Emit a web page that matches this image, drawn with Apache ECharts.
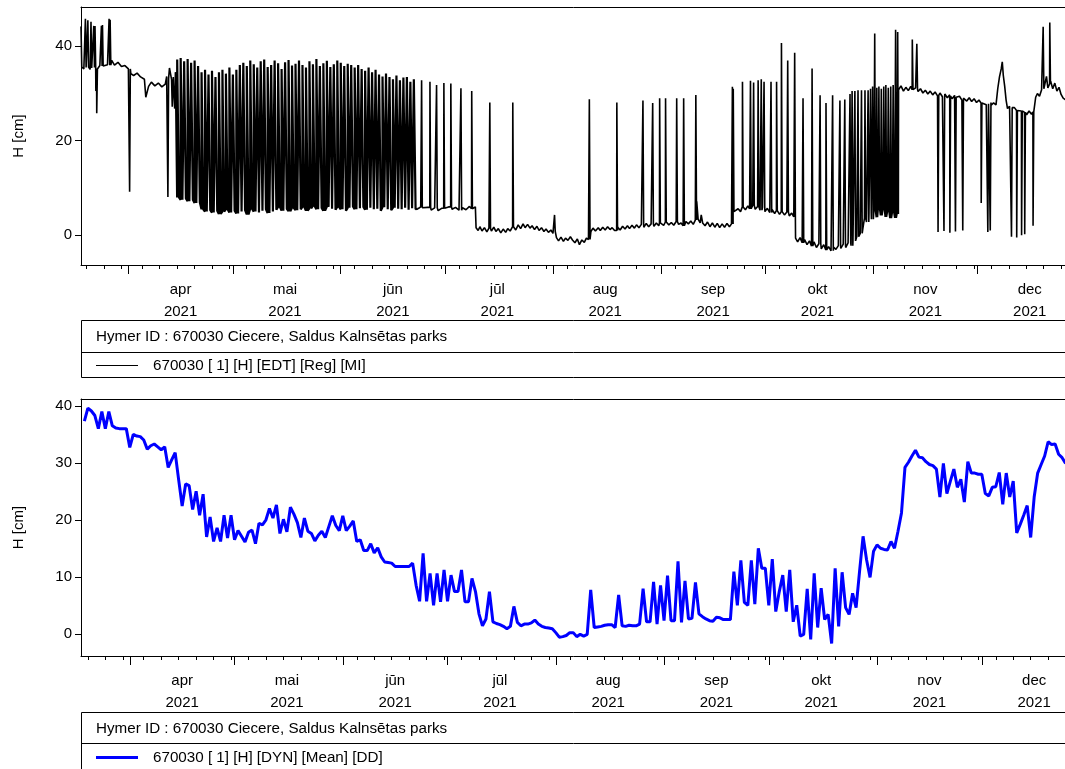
<!DOCTYPE html>
<html>
<head>
<meta charset="utf-8">
<script src="https://cdn.jsdelivr.net/npm/echarts@6/dist/echarts.min.js"></script>
<style>
  html, body { margin: 0; padding: 0; background: #fff; }
  #chart { width: 1065px; height: 769px; }
</style>
</head>
<body>
<div id="chart"></div>
<script>
// day numbers are counted from 2021-03-18 00:00 (= day 0)
const monthNames = ['apr', 'mai', 'jūn', 'jūl', 'aug', 'sep', 'okt', 'nov', 'dec'];
const monthStartDays = [14, 44, 75, 105, 136, 167, 197, 228, 258];
const monthLabelDays = [29, 59, 90, 120, 151, 182, 212, 243, 273];
const minorTickDays = [2, 7, 12, 18, 23, 28, 33, 38, 43, 48, 53, 58, 63, 68, 73,
  79, 84, 89, 94, 99, 104, 109, 114, 119, 124, 129, 134, 140, 145, 150, 155, 160, 165,
  171, 176, 181, 186, 191, 196, 201, 206, 211, 216, 221, 226, 232, 237, 242, 247, 252, 257,
  262, 267, 272, 277, 282];
const yearLabel = '2021';
const topYTicks = [0, 20, 40];
const bottomYTicks = [0, 10, 20, 30, 40];

const stationTitle = 'Hymer ID : 670030 Ciecere, Saldus Kalnsētas parks';
const topSeriesName = '670030 [ 1] [H] [EDT] [Reg] [MI]';
const bottomSeriesName = '670030 [ 1] [H] [DYN] [Mean] [DD]';

// hourly record (top): slow level, [day, cm]
const topLevel = [
  [0.38, 44.2], [0.6, 35.6], [1.2, 35.2], [2, 35.9], [3, 35.1], [3.8, 35.7], [5.2, 35], [5.8, 35.9],
  [7, 35.4], [8, 36.1], [9.2, 37], [10, 36], [11, 36.6], [12, 35.7], [13, 35.9], [14, 35.2],
  [14.7, 34.2], [15.5, 33.8], [16.5, 34.3], [17.5, 33.5], [18.6, 33], [19, 29.2], [19.5, 29],
  [19.8, 31.5], [20.6, 32.4], [21.6, 31.6], [22.6, 32.2], [23.6, 31.4], [24.6, 32], [25, 33.6],
  [25.8, 35.4], [26.4, 33], [26.6, 27.2], [26.9, 33.5], [27.3, 26.8], [27.6, 34.5],
  [97.2, 5.6], [98, 6], [99, 5.4], [100, 5.9], [101, 5.3], [102, 5.8], [103, 5.2], [104, 5.7],
  [105, 5.4], [106, 6], [107, 5.5], [108, 5.9], [109, 5.3], [110, 5.8], [111, 5.4], [112, 6.1],
  [113, 5.6], [113.7, 6], [113.9, 1.6],
  [114.5, 1.0], [115, 1.8], [115.6, 0.9], [116.3, 1.6], [117, 0.7], [117.6, 1.5], [118.3, 0.9],
  [119, 1.7], [119.6, 0.8], [120.3, 1.4], [121, 0.5], [121.7, 1.3], [122.4, 0.6], [123, 1.4],
  [123.7, 0.9], [124.8, 1.8], [125.3, 1.1], [126, 2.2], [126.7, 1.4], [127.4, 2.4], [128, 1.6],
  [128.7, 2.3], [129.4, 1.5], [130, 2.0], [130.7, 1.2], [131.4, 1.9], [132, 1.0], [132.7, 1.6],
  [133.4, 0.8], [134, 1.3], [134.7, 0.6], [135.4, 1.1], [136, 0.4],
  [137, -0.5], [137.6, -1.2], [138.3, -0.4], [139, -1.3], [139.6, -0.6], [140.3, -1.1], [141, -0.3],
  [141.6, -1.0], [142.3, -1.6], [143, -0.8], [143.6, -2.0], [144.3, -1.0], [145, -1.5], [145.6, -0.6],
  [146.2, -0.9], [146.9, 0.8], [147.5, 1.5], [148.2, 0.9], [149, 1.6], [149.6, 1.0], [150.3, 1.7],
  [151, 1.1], [151.7, 1.8], [152.4, 1.2], [153, 1.6], [153.7, 1.0], [154.6, 1.7], [155.3, 1.1],
  [156, 1.9], [156.7, 1.3], [157.4, 2.0], [158, 1.4], [158.7, 2.1], [159.4, 1.5], [160, 2.2],
  [160.7, 1.6], [161.4, 2.3], [162.1, 1.7], [162.8, 2.5], [163.5, 1.8], [164.2, 2.4], [165, 1.9],
  [165.7, 2.6], [166.4, 2.0], [167.1, 2.7], [167.8, 2.1], [168.6, 2.8], [169.3, 2.2], [170, 2.7],
  [170.7, 2.1], [171.4, 2.9], [172.1, 2.3], [172.8, 2.6], [173.4, 2.0], [174.2, 2.9], [174.9, 2.4],
  [175.6, 3.0], [176.3, 2.3], [176.9, 3.2], [177.3, 7.2], [177.7, 3.4], [178.3, 2.6], [178.6, 4.3],
  [179, 2.6], [179.7, 2.0], [180.4, 2.8], [181.1, 1.8], [181.8, 2.6], [182.5, 1.7], [183.2, 2.5],
  [183.9, 1.6], [184.6, 2.4], [185.3, 1.7], [186, 2.5], [186.7, 1.8], [187.3, 2.4],
  [188.1, 5.2], [188.5, 4.6], [189.2, 5.6], [189.9, 5.0], [190.8, 6.0], [191.3, 5.4], [192, 6.2],
  [192.5, 5.6], [193.4, 6.3], [194.1, 5.5], [194.8, 6.1], [195.5, 5.3], [196.2, 5.9], [196.9, 5.0],
  [197.6, 5.7], [198.3, 4.8], [199, 5.4], [199.7, 4.6], [200.6, 5.2], [201.1, 4.4], [202, 5.0],
  [202.5, 4.3], [203.2, 4.9], [203.9, 4.1], [204.6, 4.7], [205.2, 3.9],
  [205.7, -0.6], [206.3, -1.4], [207, -0.5], [207.6, -1.6], [208.3, -0.9], [209, -2.0], [209.7, -1.2],
  [210.3, -2.3], [211, -1.4], [211.7, -2.6], [212.4, -1.8], [213.1, -2.9], [213.8, -2.0], [214.8, -3.1],
  [215.2, -2.4], [215.9, -3.3], [216.6, -2.5], [217.3, -3.0], [218, -2.2], [218.7, -2.8], [219.4, -1.9],
  [220.1, -2.6], [220.8, -1.6], [221.65, -2.2], [222.2, -1.2], [223.05, -1.0], [223.3, -0.3],
  [224.3, 0.4], [225, 1.2], [225.5, 3.6], [226.1, 2.8], [226.8, 4.8], [227.5, 3.4], [228.2, 5.2],
  [228.9, 3.8], [229.45, 5.6], [230.1, 4.2], [230.8, 5.4], [231.45, 3.9], [232.1, 5.0], [232.8, 3.6],
  [233.5, 4.8], [234.2, 3.7], [234.85, 4.5],
  [235.3, 30.8], [236, 31.6], [236.7, 30.5], [237.4, 31.3], [238.1, 30.6], [238.8, 31.5], [239.5, 30.8],
  [240.2, 31.2], [240.9, 30.4], [241.6, 31.0], [242.3, 30.1], [243, 30.7], [243.7, 29.9], [244.4, 30.5],
  [245.1, 29.7], [245.8, 30.3], [246.5, 29.5], [247.2, 30.1], [247.9, 29.3], [248.6, 29.9], [249.3, 29.1],
  [250, 29.7], [250.7, 28.9], [251.4, 29.6], [252.1, 28.8], [252.8, 29.4], [253.5, 28.6], [254.2, 29.2],
  [254.9, 28.4], [255.6, 29.1], [256.3, 28.3], [257, 28.9], [257.7, 28.1], [258.4, 28.6], [259.1, 27.8],
  [259.8, 28.4], [260.5, 27.6], [261.2, 28.2], [261.9, 27.5], [262.6, 28.0], [263.3, 27.6], [263.8, 31.0],
  [264.3, 33.5], [264.8, 35.2], [265.1, 36.7], [265.4, 33.8], [265.8, 31.5], [266.2, 28.6], [266.6, 26.8],
  [267.2, 27.3], [267.9, 26.2], [268.6, 27.0], [269.3, 25.8], [270, 26.6], [270.7, 25.6], [271.4, 26.4],
  [272.1, 25.5], [272.8, 26.3], [273.5, 25.6], [274.2, 26.5], [274.7, 29.2], [275.2, 30.0], [275.8, 29.4],
  [276.4, 30.8], [277.2, 31.5], [277.8, 33.6], [278.2, 31.2], [279, 32.6], [279.6, 31.0], [280.2, 32.2],
  [280.8, 30.5], [281.4, 31.3], [282, 29.8], [282.6, 29.0], [283.2, 28.7], [283.7, 29.2]
];

// daily pumping cycle of the hourly record, days 28..96: high and low of each day
const cycleFirstDay = 28;
const cycleHighs = [
  37.2, 37.5, 36.8, 37.3, 36.5, 37.0, 35.8, 34.5, 35.0, 34.0,
  34.8, 33.5, 34.5, 35.0, 34.2, 35.5, 34.0, 35.0, 36.0, 36.5,
  35.8, 37.0, 36.2, 35.5, 36.8, 37.2, 35.6, 36.0, 37.0, 36.4,
  35.2, 36.6, 37.1, 35.9, 36.3, 37.0, 36.0, 35.5, 36.8, 36.2,
  37.3, 35.8, 36.4, 36.9, 35.6, 36.2, 37.0, 36.5, 35.8, 36.3,
  36.0, 35.5, 36.0, 35.2, 34.8, 35.5, 34.5, 35.0, 34.0, 33.6,
  34.2, 33.5, 33.0, 33.8, 32.8, 33.4, 33.5, 32.5, 33.0
];
const cycleLows = [
  8.0, 7.5, 7.8, 7.2, 7.5, 6.8, 7.0, 5.5, 5.0, 5.3,
  4.8, 5.2, 4.5, 5.0, 5.5, 4.8, 5.2, 4.6, 5.0, 5.3,
  4.4, 5.6, 5.0, 4.8, 5.2, 5.5, 4.7, 5.0, 5.4, 6.0,
  5.2, 5.6, 5.1, 5.8, 5.3, 5.5, 6.0, 5.2, 5.7, 6.2,
  5.5, 5.8, 5.2, 6.0, 5.6, 5.4, 6.0, 5.5, 5.2, 5.8,
  6.1, 5.5, 5.7, 6.0, 5.4, 5.8, 5.5, 5.6, 5.2, 5.9,
  5.5, 5.3, 5.8, 5.6, 5.5, 5.8, 5.4, 5.7, 5.5
];

// short excursions of the hourly record: [day, level, extreme]
const excursions = [
  [1.6, 35.5, 45.8], [2.3, 35.6, 45.5], [3.2, 35.4, 45.2], [4.0, 35.5, 44.3], [4.35, 35.5, 44.3],
  [4.6, 35.3, 30.5], [4.85, 35.2, 25.8], [6.2, 35.8, 44.3], [6.5, 35.8, 44.5], [8.4, 36, 45.8],
  [8.7, 36, 45.6], [14.3, 35.2, 9.2], [25.3, 33.2, 8.1],
  [98.2, 5.8, 32.8], [100.6, 5.9, 32.5], [102.5, 5.8, 31.8], [104.6, 5.7, 32.2], [106.6, 6.0, 32.1],
  [109.5, 5.3, 31.1], [112.6, 5.6, 30.5],
  [117.8, 1.5, 28.1], [124.4, 1.8, 28.1], [136.4, 0.8, 4.3], [146.4, -0.9, 28.8], [154.3, 1.0, 28.1],
  [161.8, 2.3, 28.5], [164.6, 2.4, 28], [166.6, 2.6, 29], [168.3, 2.8, 29], [171.5, 2.9, 29],
  [173.5, 2.0, 29], [177.0, 3.2, 29.7],
  [187.5, 2.4, 31.4], [187.75, 5, 31], [190.4, 6.0, 32.5], [192.7, 5.6, 32.7], [193.6, 6.3, 32.3],
  [194.9, 6.1, 32.8], [195.8, 5.3, 33], [196.6, 5.9, 32.5], [198.6, 4.8, 32.5], [200.2, 5.2, 32.5],
  [201.6, 5.0, 40.7], [203.4, 4.9, 37], [205.4, 3.9, 38.6],
  [207.8, -1.6, 29], [210.4, -2.3, 35.3], [212.7, -1.8, 29.6], [214.4, -3.1, 28], [216.3, -3.3, 29.6],
  [218.4, -2.2, 28.5], [219.8, -1.9, 28.7], [221.3, -1.6, 29.9], [221.9, -2.2, 30.5], [222.7, -1.2, 30.5],
  [223.6, -0.3, 30.7], [224.6, 0.4, 30.7], [225.6, 3.6, 30.7], [226.5, 2.8, 30.7], [227.2, 4.8, 31],
  [227.8, 3.4, 31.5], [228.4, 5.2, 42.7], [229.0, 3.8, 31.2], [229.6, 5.6, 31.5], [230.3, 4.2, 31],
  [231.0, 5.4, 31.5], [231.6, 3.9, 31.8], [232.3, 5.0, 31.2], [233.0, 3.6, 31.5], [233.7, 4.8, 31.8],
  [234.4, 3.7, 43.5], [235.0, 4.5, 43],
  [239.2, 30.8, 41.4], [240.5, 30.9, 40.5], [246.6, 29.6, 0.7], [248.3, 29.4, 0.9], [250.0, 29.4, 0.5],
  [251.6, 29.2, 0.8], [253.7, 29.0, 1.0], [259.0, 28.0, 6.8], [260.9, 27.8, 0.7], [261.6, 28.1, 1.0],
  [267.7, 27, -0.3], [269.2, 26.4, -0.5], [270.6, 26.3, 0], [271.5, 26, 0.2], [273.9, 26.1, 2],
  [276.8, 31, 44.1], [278.7, 32, 45]
];

// daily mean (bottom), days 1..282
const blueFirstDay = 1;
const blueDaily = [
  37.3, 39.6, 39.1, 38.3, 36.0, 39.0, 36.0, 39.0, 36.5, 36.1,
  36.0, 36.0, 36.0, 32.7, 35.0, 34.7, 34.6, 34.0, 32.4, 33.0,
  33.3, 32.8, 32.3, 32.8, 29.2, 30.5, 31.8, 27.0, 22.4, 26.3,
  26.0, 21.8, 25.0, 20.8, 24.5, 17.0, 20.5, 16.2, 18.6, 16.2,
  20.8, 16.8, 20.8, 16.5, 18.1, 17.1, 16.1, 17.8, 18.2, 15.8,
  19.4, 19.1, 20.0, 22.0, 20.3, 22.6, 17.6, 20.1, 17.9, 22.2,
  21.0, 19.5, 16.9, 20.3, 18.0, 17.6, 16.3, 17.3, 18.0, 16.9,
  18.8, 20.7, 19.0, 18.1, 20.7, 18.1, 18.9, 19.8, 16.2, 16.5,
  14.6, 14.6, 15.8, 14.2, 15.1, 13.5, 12.6, 12.5, 12.4, 11.8,
  11.8, 11.8, 11.8, 11.8, 12.4, 8.5, 5.7, 14.1, 5.7, 10.6,
  5.0, 10.6, 5.6, 11.2, 5.7, 10.3, 7.4, 7.4, 11.2, 5.6,
  5.6, 9.7, 7.4, 3.5, 1.4, 2.6, 7.4, 2.1, 1.8, 1.6,
  1.3, 0.9, 1.3, 4.8, 2.0, 1.4, 1.7, 1.7, 1.9, 2.4,
  1.7, 1.3, 1.1, 1.0, 0.9, 0.2, -0.6, -0.5, -0.3, 0.2,
  0.2, -0.5, -0.1, -0.4, -0.1, 7.7, 1.1, 1.2, 1.3, 1.5,
  1.6, 1.6, 1.1, 6.8, 1.4, 1.3, 1.5, 1.4, 1.4, 1.7,
  7.9, 2.1, 2.1, 9.1, 1.7, 8.5, 2.3, 10.2, 2.3, 2.3,
  12.7, 2.0, 9.3, 2.6, 2.7, 9.0, 3.5, 3.0, 2.6, 2.3,
  2.2, 2.9, 2.8, 2.5, 2.5, 2.5, 10.9, 5.0, 12.9, 5.5,
  5.0, 12.9, 5.2, 15.0, 11.5, 11.5, 5.0, 13.1, 3.9, 7.4,
  10.3, 3.9, 11.2, 2.1, 5.0, -0.4, -0.1, 7.9, -1.0, 10.6,
  1.1, 8.0, 2.5, 3.4, -1.7, 11.5, 1.3, 10.8, 4.6, 3.4,
  7.1, 4.6, 11.0, 17.1, 13.0, 9.9, 14.5, 15.6, 15.0, 14.8,
  14.7, 16.2, 15.0, 18.0, 21.2, 29.2, 30.1, 31.2, 32.2, 31.0,
  30.9, 30.2, 29.7, 29.5, 28.9, 24.0, 29.9, 24.6, 26.8, 28.9,
  25.7, 27.1, 23.1, 30.2, 28.2, 28.2, 28.0, 28.0, 24.6, 24.2,
  25.7, 25.8, 28.3, 22.7, 28.2, 24.0, 26.8, 17.7, 19.2, 20.8,
  22.5, 16.9, 24.0, 28.2, 29.7, 31.2, 33.7, 33.2, 33.3, 31.5,
  30.9, 29.9
];

// ---- build the series ----
const excursionSpans = excursions.map(([d]) => [d, d + 0.25]);
const topPoints = topLevel.filter(([d]) => !excursionSpans.some(([a, b]) => d > a && d < b));
excursions.forEach(([d, base, peak]) => {
  topPoints.push([d, base], [d + 0.05, peak], [d + 0.2, peak], [d + 0.25, base]);
});
topPoints.sort((a, b) => a[0] - b[0]);

// the daily cycle is drawn as a square wave: up at the start of the day, down at noon
const cycleEnd = cycleFirstDay + cycleLows.length;
const topEarly = topPoints.filter(p => p[0] < cycleFirstDay);
const topLate = topPoints.filter(p => p[0] >= cycleEnd);
const cyclePoints = [topEarly[topEarly.length - 1]];
cycleLows.forEach((low, i) => {
  const d = cycleFirstDay + i;
  cyclePoints.push([d, low], [d + 0.02, cycleHighs[i]], [d + 0.5, cycleHighs[i]], [d + 0.52, low]);
});
cyclePoints.push(topLate[0]);

const bluePoints = blueDaily.map((v, i) => [blueFirstDay + i, v]);

// ---- chart ----
const FONT = 'Liberation Sans';
const textColor = '#000';
const legendFont = '15.2px ' + FONT;

function xAxesFor(gridIndex, min, max) {
  return [
    {
      type: 'value', gridIndex: gridIndex, min: min, max: max, position: 'bottom',
      axisLine: { show: true, onZero: false, lineStyle: { color: '#000', width: 1 } },
      axisTick: { show: true, customValues: monthStartDays, length: 9, lineStyle: { color: '#000' } },
      axisLabel: {
        customValues: monthLabelDays, margin: 14, color: textColor, fontFamily: FONT,
        fontSize: 15, lineHeight: 22,
        formatter: v => monthNames[monthLabelDays.indexOf(v)] + '\n' + yearLabel
      },
      splitLine: { show: false }
    },
    {
      type: 'value', gridIndex: gridIndex, min: min, max: max, position: 'bottom',
      axisLine: { show: false, onZero: false },
      axisTick: { show: true, customValues: minorTickDays, length: 4, lineStyle: { color: '#000' } },
      axisLabel: { show: false },
      splitLine: { show: false }
    },
    {
      type: 'value', gridIndex: gridIndex, min: min, max: max, position: 'top',
      axisLine: { show: true, onZero: false, lineStyle: { color: '#000', width: 1 } },
      axisTick: { show: false }, axisLabel: { show: false }, splitLine: { show: false }
    }
  ];
}

function yAxisFor(gridIndex, min, max, ticks) {
  return {
    type: 'value', gridIndex: gridIndex, min: min, max: max,
    name: 'H [cm]', nameLocation: 'middle', nameGap: 55, nameRotate: 90,
    nameTextStyle: { color: textColor, fontFamily: FONT, fontSize: 15 },
    axisLine: { show: true, onZero: false, lineStyle: { color: '#000', width: 1 } },
    axisTick: { show: true, customValues: ticks, length: 6, lineStyle: { color: '#000' } },
    axisLabel: { customValues: ticks, margin: 9, color: textColor, fontFamily: FONT, fontSize: 15 },
    splitLine: { show: false }
  };
}

const topLine = (data, width) => ({
  name: topSeriesName, type: 'line', xAxisIndex: 0, yAxisIndex: 0,
  data: data, showSymbol: false, symbol: 'none', sampling: null,
  lineStyle: { color: '#000', width: width, join: 'bevel' }, silent: true
});

const option = {
  animation: false,
  backgroundColor: '#fff',
  textStyle: { fontFamily: FONT },
  grid: [
    { left: 81, top: 7, width: 986, height: 258, outerBoundsMode: 'none' },
    { left: 81, top: 399, width: 986, height: 257, outerBoundsMode: 'none' }
  ],
  xAxis: [].concat(xAxesFor(0, 0.38, 283.7), xAxesFor(1, 0.03, 282.4)),
  yAxis: [
    yAxisFor(0, -6.3, 48.3, topYTicks),
    yAxisFor(1, -3.9, 41.2, bottomYTicks)
  ],
  series: [
    topLine(topEarly, 1.6),
    topLine(cyclePoints, 2.2),
    topLine(topLate, 1.6),
    {
      name: bottomSeriesName, type: 'line', xAxisIndex: 3, yAxisIndex: 1,
      data: bluePoints, showSymbol: false, symbol: 'none',
      lineStyle: { color: '#0000ff', width: 3 }, silent: true
    }
  ],
  graphic: [
    // legend box of the top chart
    { type: 'rect', shape: { x: 81.5, y: 320.5, width: 1000, height: 57 }, style: { fill: '#fff', stroke: '#000', lineWidth: 1 } },
    { type: 'line', shape: { x1: 81, y1: 352.5, x2: 1070, y2: 352.5 }, style: { stroke: '#000', lineWidth: 1 } },
    { type: 'text', x: 96, y: 336.5, style: { text: stationTitle, fill: textColor, font: legendFont, verticalAlign: 'middle' } },
    { type: 'line', shape: { x1: 96, y1: 365.5, x2: 138, y2: 365.5 }, style: { stroke: '#000', lineWidth: 1 } },
    { type: 'text', x: 153, y: 365.5, style: { text: topSeriesName, fill: textColor, font: legendFont, verticalAlign: 'middle' } },
    // legend box of the bottom chart
    { type: 'rect', shape: { x: 81.5, y: 712.5, width: 1000, height: 100 }, style: { fill: '#fff', stroke: '#000', lineWidth: 1 } },
    { type: 'line', shape: { x1: 81, y1: 743.5, x2: 1070, y2: 743.5 }, style: { stroke: '#000', lineWidth: 1 } },
    { type: 'text', x: 96, y: 728.5, style: { text: stationTitle, fill: textColor, font: legendFont, verticalAlign: 'middle' } },
    { type: 'line', shape: { x1: 96, y1: 757.5, x2: 138, y2: 757.5 }, style: { stroke: '#0000ff', lineWidth: 3 } },
    { type: 'text', x: 153, y: 757.5, style: { text: bottomSeriesName, fill: textColor, font: legendFont, verticalAlign: 'middle' } }
  ]
};

const chart = echarts.init(document.getElementById('chart'));
chart.setOption(option);
window.onresize = () => { chart.resize(); };
</script>
</body>
</html>
